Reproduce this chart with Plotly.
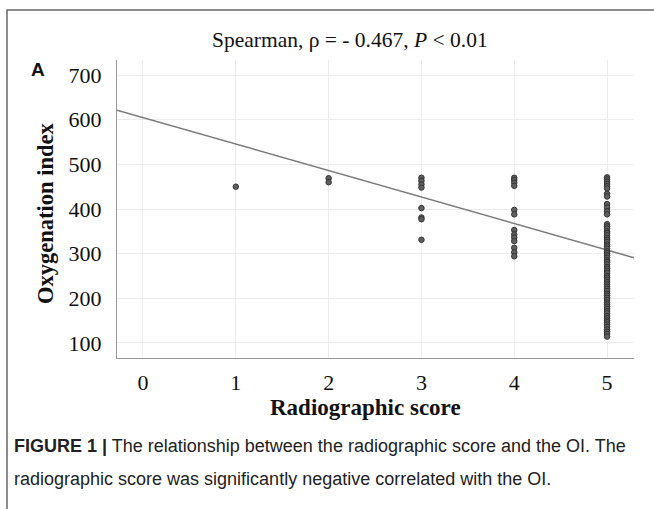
import plotly.graph_objects as go

# ---- data ----
score_1 = [450]
score_2 = [469, 460]
score_3 = [470, 463, 455, 448, 402, 381, 377, 331]
score_4 = [470, 465, 459, 452, 398, 388, 353, 343, 336, 328, 313, 303, 294]
score_5 = [471, 466, 461, 456, 451, 446, 434, 428, 411, 403, 395, 388,
           366, 361, 356, 350, 346, 341, 335, 331, 326, 320, 316, 311, 305,
           301, 296, 291, 285, 281, 276, 270, 266, 261, 256, 250, 246, 241,
           236, 231, 226, 221, 216, 210, 206, 201, 196, 190, 186, 181, 176,
           171, 166, 160, 155, 150, 146, 141, 136, 130, 125, 120, 114]
fit_intercept = 605.0
fit_slope = -59.4
x_ticks = [0, 1, 2, 3, 4, 5]
y_ticks = [100, 200, 300, 400, 500, 600, 700]
x_range = [-0.28, 5.29]
y_range = [66, 734]

xs, ys = [], []
for s, vals in [(1, score_1), (2, score_2), (3, score_3), (4, score_4), (5, score_5)]:
    xs += [s] * len(vals)
    ys += vals

fig = go.Figure()
fig.add_trace(go.Scatter(
    x=x_range, y=[fit_intercept + fit_slope * v for v in x_range],
    mode="lines", line=dict(color="#7a7a7a", width=1.5), hoverinfo="skip"))
fig.add_trace(go.Scatter(
    x=xs, y=ys, mode="markers",
    marker=dict(size=5.5, color="#5f5f5f", line=dict(color="#333333", width=1))))

serif = "Liberation Serif"
W, H = 654, 509
L, R, T, B = 117, 20, 60, 151
pw, ph = W - L - R, H - T - B

def px(x):
    return (x - L) / pw

def py(y):
    return (H - B - y) / ph

fig.update_layout(
    width=W, height=H, showlegend=False,
    margin=dict(l=L, r=R, t=T, b=B),
    paper_bgcolor="white", plot_bgcolor="white",
    xaxis=dict(range=x_range, tickvals=x_ticks, showgrid=True, gridcolor="#ececec",
               gridwidth=1, zeroline=False, showline=True, linecolor="#9a9a9a",
               linewidth=1, ticks="", ticklabelstandoff=5,
               tickfont=dict(family=serif, size=22, color="#111")),
    yaxis=dict(range=y_range, tickvals=y_ticks, showgrid=True, gridcolor="#ececec",
               gridwidth=1, zeroline=False, showline=True, linecolor="#9a9a9a",
               linewidth=1, ticks="", ticklabelstandoff=10,
               tickfont=dict(family=serif, size=22, color="#111")),
    shapes=[dict(type="path", xref="paper", yref="paper",
                 path=f"M {px(7)} {py(515)} L {px(7)} {py(10)} L {px(660)} {py(10)}",
                 line=dict(color="#666", width=1.5))],
    annotations=[
        dict(text="Spearman, ρ = - 0.467, <i>P</i> < 0.01", xref="paper", yref="paper",
             x=px(350), y=py(40), showarrow=False, xanchor="center", yanchor="middle",
             font=dict(family=serif, size=21.5, color="#111")),
        dict(text="<b>A</b>", xref="paper", yref="paper", x=px(38), y=py(70),
             showarrow=False, xanchor="center", yanchor="middle",
             font=dict(family="Liberation Sans", size=19, color="#111")),
        dict(text="<b>Oxygenation index</b>", xref="paper", yref="paper",
             x=px(45), y=py(214), textangle=-90, showarrow=False,
             xanchor="center", yanchor="middle",
             font=dict(family=serif, size=22.5, color="#111")),
        dict(text="<b>Radiographic score</b>", xref="paper", yref="paper",
             x=px(365), y=py(407), showarrow=False, xanchor="center", yanchor="middle",
             font=dict(family=serif, size=23, color="#111")),
        dict(text="<b>FIGURE 1 |</b> The relationship between the radiographic score and the OI. The",
             xref="paper", yref="paper", x=px(12), y=py(446), showarrow=False,
             xanchor="left", yanchor="middle",
             font=dict(family="Liberation Sans", size=18, color="#222")),
        dict(text="radiographic score was significantly negative correlated with the OI.",
             xref="paper", yref="paper", x=px(12), y=py(479), showarrow=False,
             xanchor="left", yanchor="middle",
             font=dict(family="Liberation Sans", size=18, color="#222")),
    ],
)

fig.write_html("out.html", config={"displayModeBar": False},
               post_script="document.body.style.margin='0';")
